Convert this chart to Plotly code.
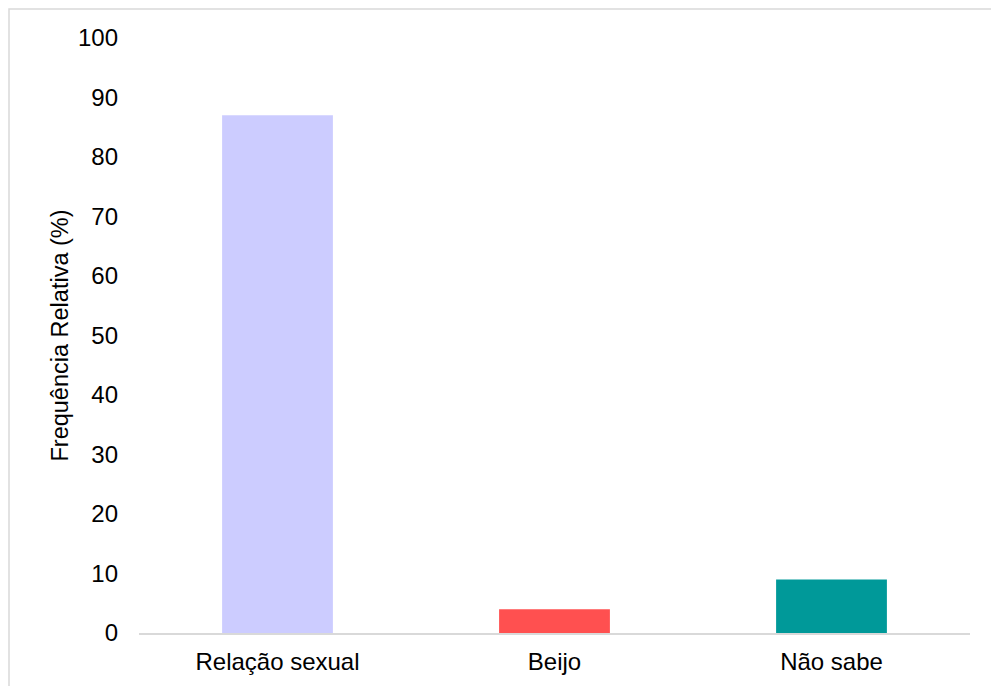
import plotly.graph_objects as go

# Categories and relative frequencies (%)
categories = ["Relação sexual", "Beijo", "Não sabe"]
values = [87, 4, 9]
bar_colors = ["#CCCCFF", "#FF5050", "#009999"]
y_ticks = [0, 10, 20, 30, 40, 50, 60, 70, 80, 90, 100]

font_family = "Liberation Sans, Arial, sans-serif"

fig = go.Figure(
    go.Bar(
        x=categories,
        y=values,
        marker=dict(color=bar_colors, line=dict(width=0)),
        width=0.4,
        hoverinfo="x+y",
    )
)

W, H = 991, 686
ml, mr, mt, mb = 139, 21, 38, 53
pw = W - ml - mr
ph = H - mt - mb

fig.update_layout(
    width=W,
    height=H,
    margin=dict(l=ml, r=mr, t=mt, b=mb),
    paper_bgcolor="white",
    plot_bgcolor="white",
    font=dict(family=font_family, size=24, color="#000000"),
    showlegend=False,
    xaxis=dict(
        showgrid=False,
        showline=True,
        linecolor="#D9D9D9",
        linewidth=2,
        ticks="",
        tickfont=dict(size=24),
        ticklabelstandoff=6,
    ),
    yaxis=dict(
        range=[0, 100],
        tickvals=y_ticks,
        showgrid=False,
        zeroline=False,
        showline=False,
        ticks="",
        tickfont=dict(size=24),
        ticklabelstandoff=20,
        title=dict(text="Frequência Relativa (%)", font=dict(size=23.5), standoff=2),
    ),
    shapes=[
        # light outer frame around the chart
        dict(
            type="rect",
            xref="paper",
            yref="paper",
            x0=(9 - ml) / pw,
            x1=(W + 10 - ml) / pw,
            y0=-(H + 10 - mt - ph) / ph,
            y1=1 + (mt - 9) / ph,
            line=dict(color="#D9D9D9", width=1.5),
            fillcolor="rgba(0,0,0,0)",
            layer="below",
        )
    ],
)

fig.write_html("out.html")
